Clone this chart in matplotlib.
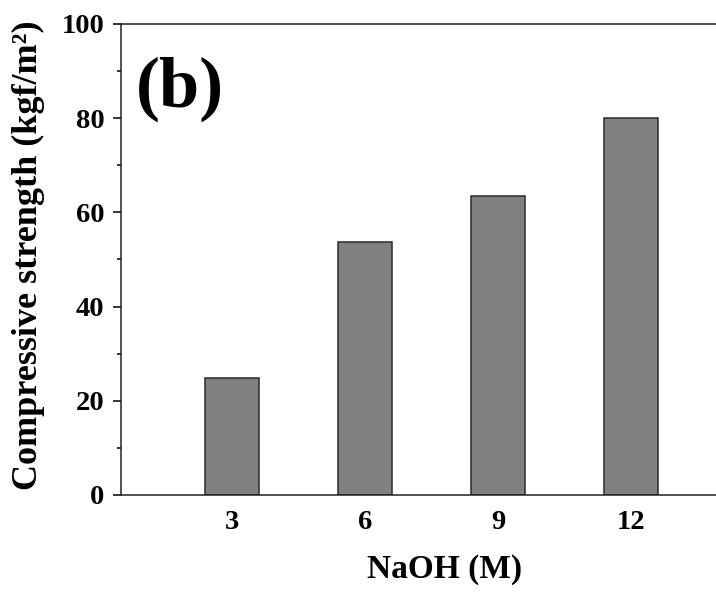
import matplotlib
matplotlib.use("Agg")
import matplotlib.pyplot as plt
from matplotlib.ticker import MultipleLocator

# data
naoh = ["3", "6", "9", "12"]
strength = [24.8, 53.7, 63.5, 80.0]

plt.rcParams['font.family'] = ['Liberation Serif', 'DejaVu Serif']
plt.rcParams['font.weight'] = 'bold'

fig = plt.figure(figsize=(7.16, 5.92), dpi=100)
ax = fig.add_axes([0.169, 0.164, 0.831, 0.7956])

pos = list(range(len(naoh)))
ax.bar(pos, strength, width=0.406, color='#808080', edgecolor='#2a2a2a', linewidth=1.1)

ax.set_xlim(-0.835, 3.64)
ax.set_ylim(0, 100)
ax.set_xticks(pos)
ax.set_xticklabels(naoh)
ax.yaxis.set_major_locator(MultipleLocator(20))
ax.yaxis.set_minor_locator(MultipleLocator(10))

ax.tick_params(axis='x', length=0, pad=11, labelsize=20.5)
ax.tick_params(axis='y', which='major', direction='out', length=6, width=1.1, pad=6, labelsize=20.5)
ax.tick_params(axis='y', which='minor', direction='out', length=3, width=1.1)
for lab in ax.get_xticklabels() + ax.get_yticklabels():
    lab.set_fontweight('bold')

ax.spines['right'].set_visible(False)
for s in ['left', 'top', 'bottom']:
    ax.spines[s].set_linewidth(1.1)
    ax.spines[s].set_color('#222222')

ax.set_ylabel('Compressive strength (kgf/m\u00b2)', fontsize=26, fontweight='bold')
ax.yaxis.set_label_coords(-0.128, 0.508)
ax.set_xlabel('NaOH (M)', fontsize=24, fontweight='bold')
ax.xaxis.set_label_coords(0.543, -0.125)

ax.text(0.025, 0.93, '(b)', transform=ax.transAxes, ha='left', va='top',
        fontsize=52, fontweight='bold')

fig.savefig('out.png', dpi=100)
